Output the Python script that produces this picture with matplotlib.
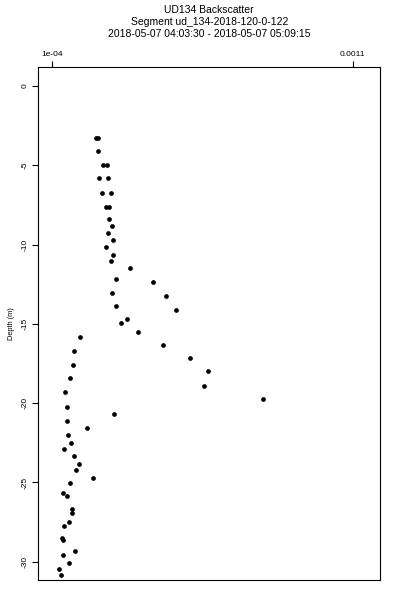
import matplotlib
matplotlib.use("Agg")
import matplotlib.pyplot as plt

plt.rcParams['font.family'] = ['Liberation Sans', 'DejaVu Sans']

title_lines = ["UD134 Backscatter",
               "Segment ud_134-2018-120-0-122",
               "2018-05-07 04:03:30 - 2018-05-07 05:09:15"]
ylabel = "Depth (m)"

backscatter = [2.46e-4, 2.55e-4, 2.55e-4, 2.70e-4, 2.84e-4, 2.58e-4, 2.86e-4, 2.66e-4,
               2.97e-4, 2.80e-4, 2.89e-4, 2.91e-4, 3.00e-4, 2.88e-4, 3.05e-4, 2.81e-4,
               3.05e-4, 2.96e-4, 3.59e-4, 3.14e-4, 4.38e-4, 3.01e-4, 4.79e-4, 3.15e-4,
               5.12e-4, 3.51e-4, 3.29e-4, 3.88e-4, 1.94e-4, 4.71e-4, 1.74e-4, 5.59e-4,
               1.72e-4, 6.20e-4, 1.62e-4, 6.07e-4, 1.43e-4, 8.03e-4, 1.52e-4, 3.07e-4,
               1.52e-4, 2.18e-4, 1.53e-4, 1.65e-4, 1.40e-4, 1.73e-4, 1.91e-4, 1.82e-4,
               2.36e-4, 1.60e-4, 1.37e-4, 1.50e-4, 1.68e-4, 1.68e-4, 1.56e-4, 1.42e-4,
               1.34e-4, 1.39e-4, 1.76e-4, 1.37e-4, 1.56e-4, 1.25e-4, 1.30e-4]
depth = [-3.26, -3.26, -4.10, -4.98, -4.98, -5.82, -5.82, -6.73,
         -6.73, -7.63, -7.63, -8.40, -8.85, -9.27, -9.73, -10.15,
         -10.64, -11.05, -11.49, -12.19, -12.38, -13.05, -13.26, -13.85,
         -14.12, -14.67, -14.96, -15.51, -15.81, -16.33, -16.69, -17.17,
         -17.61, -17.99, -18.43, -18.90, -19.31, -19.75, -20.24, -20.66,
         -21.10, -21.58, -22.02, -22.49, -22.91, -23.35, -23.85, -24.21,
         -24.74, -25.05, -25.68, -25.87, -26.69, -26.90, -27.47, -27.76,
         -28.52, -28.64, -29.30, -29.57, -30.06, -30.47, -30.85]

xticks = [1e-4, 0.0011]
xticklabels = ["1e-04", "0.0011"]
yticks = [0, -5, -10, -15, -20, -25, -30]
yticklabels = ["0", "-5", "-10", "-15", "-20", "-25", "-30"]

fig = plt.figure(figsize=(4, 6), dpi=100)
ax = fig.add_axes([38.3/400, 1-580/600, (380.3-38.3)/400, (580-67.3)/600])
ax.plot(backscatter, depth, linestyle='none', marker='o', markersize=3.4,
        color='black', markeredgewidth=0)
ax.set_xlim(5.55e-5, 1.1917e-3)
ax.set_ylim(-31.15, 1.18)

ax.xaxis.tick_top()
ax.set_xticks(xticks)
ax.set_xticklabels(xticklabels, fontsize=6)
ax.set_yticks(yticks)
ax.set_yticklabels(yticklabels, fontsize=6, rotation=90, va='center')
ax.tick_params(axis='both', length=4, width=0.8, pad=3)
for s in ax.spines.values():
    s.set_linewidth(0.8)

ax.set_ylabel(ylabel, fontsize=5.3, labelpad=5)

for i, t in enumerate(title_lines):
    fig.text(209.3/400, 1 - (10 + 12*i)/600, t, ha='center', va='center', fontsize=7.5)

fig.savefig("out.png", dpi=100)
